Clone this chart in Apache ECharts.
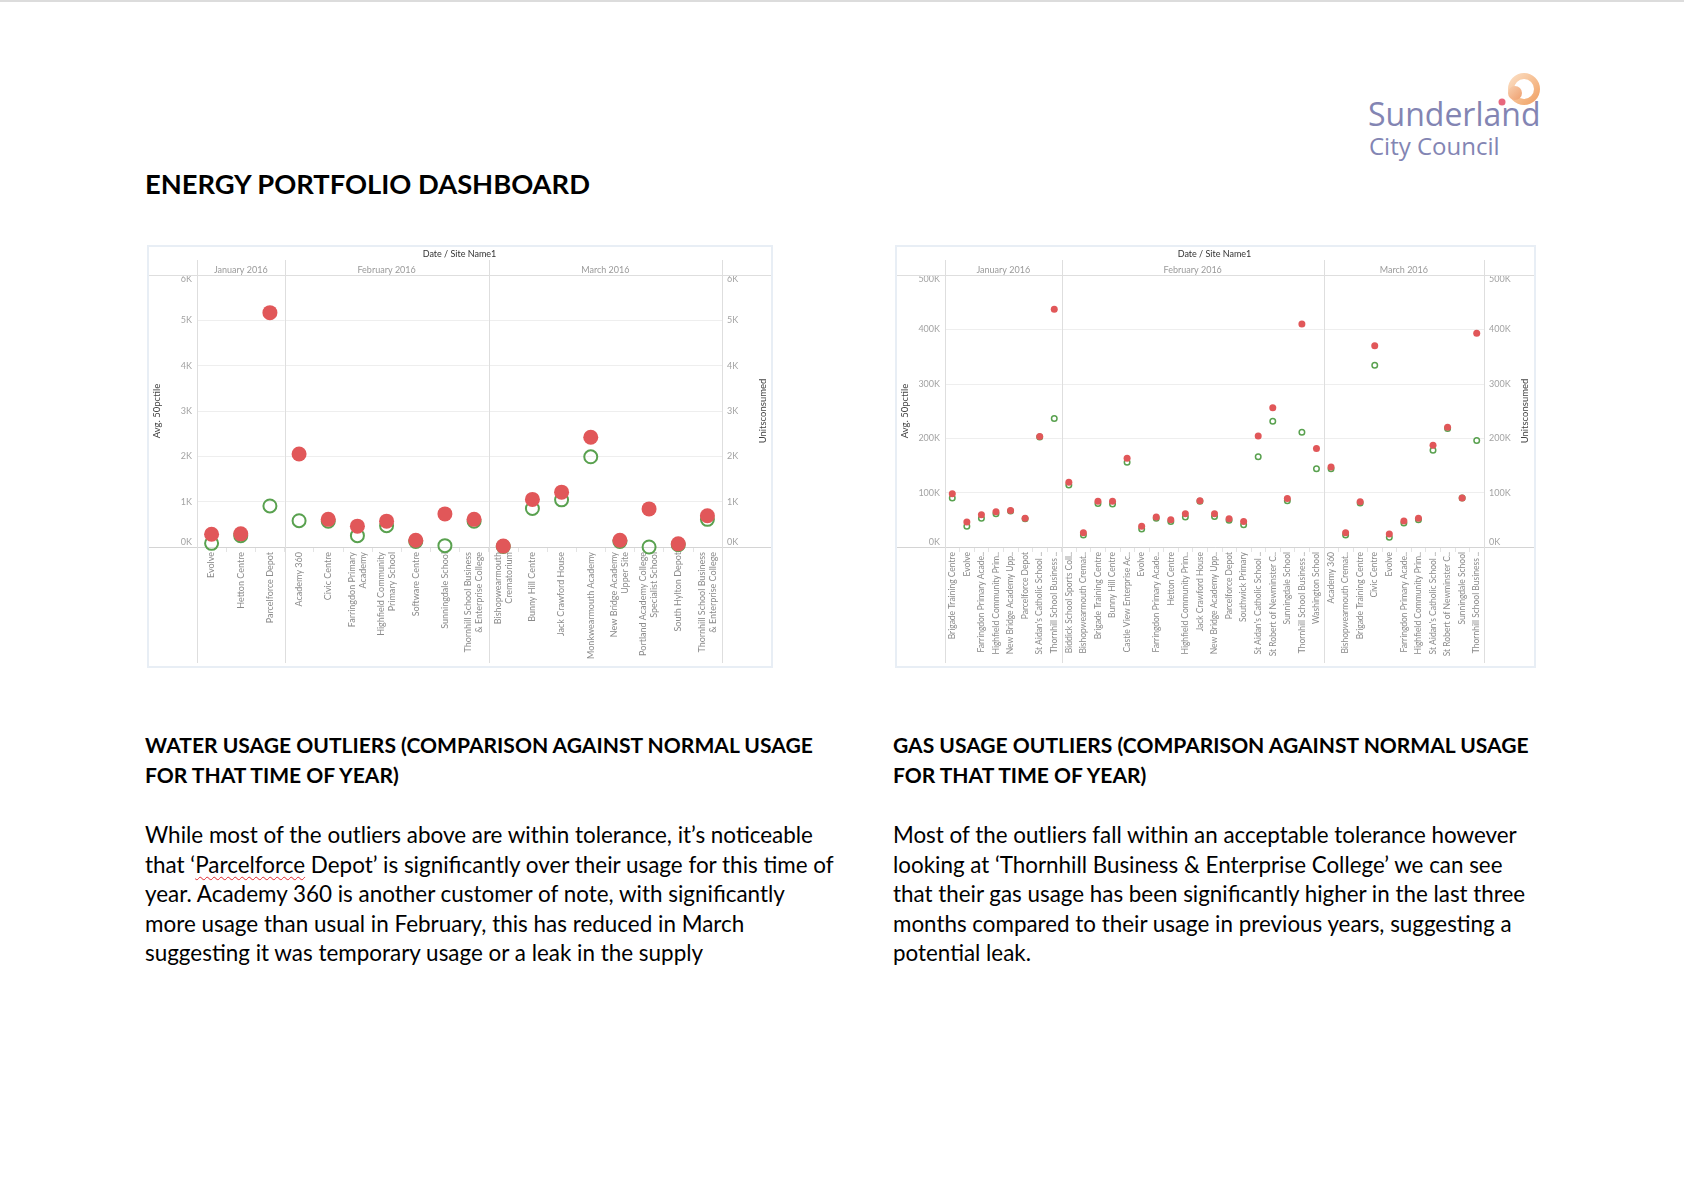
<!DOCTYPE html>
<html>
<head>
<meta charset="utf-8">
<script src="https://cdn.jsdelivr.net/npm/echarts@6/dist/echarts.min.js"></script>
<style>
html,body{margin:0;padding:0;background:#fff;width:1684px;height:1190px;overflow:hidden;font-family:Lato,"Open Sans",sans-serif;color:#000;}
.topline{position:absolute;left:0;top:0;width:1684px;height:2px;background:#dcdcdc;}
.panel{position:absolute;border:2px solid #e8eef5;box-sizing:border-box;background:#fff;}
.chart{position:absolute;}
.txt{position:absolute;white-space:nowrap;}
.txt span{display:block;}
.title{left:145px;top:166px;font-weight:700;font-size:28px;line-height:36px;}
.head{font-weight:700;font-size:20px;line-height:29.5px;}
.body{font-weight:400;font-size:20px;line-height:29.5px;}
.ref{display:inline-block !important;}
.sq{text-decoration:underline wavy #e0242a;text-decoration-thickness:1px;text-underline-offset:3px;}
.logo1{position:absolute;left:1368px;top:94px;font-family:"Open Sans",sans-serif;font-size:32px;line-height:40px;color:#8385b3;white-space:nowrap;}
.logo2{position:absolute;left:1369px;top:131px;font-family:"Open Sans",sans-serif;font-size:24px;line-height:30px;color:#8385b3;white-space:nowrap;}
</style>
</head>
<body>
<div class="topline"></div>

<svg style="position:absolute;left:1490px;top:65px" width="60" height="50">
  <defs>
    <linearGradient id="rg" x1="0" y1="0" x2="1" y2="1">
      <stop offset="0" stop-color="#fbdcc0"/>
      <stop offset="1" stop-color="#f1a468"/>
    </linearGradient>
    <linearGradient id="mg" x1="0" y1="0" x2="1" y2="1">
      <stop offset="0" stop-color="#f8cfae"/>
      <stop offset="1" stop-color="#ef9f6e"/>
    </linearGradient>
  </defs>
  <circle cx="34" cy="24" r="13" fill="none" stroke="url(#rg)" stroke-width="6"/>
  <circle cx="25" cy="28" r="7" fill="url(#mg)"/>
  <circle cx="12" cy="37" r="3.5" fill="#e8677d"/>
</svg>
<div class="logo1">Sunderland</div>
<div class="logo2">City Council</div>

<div class="txt title" id="title"><span class="ref">ENERGY PORTFOLIO DASHBOARD</span></div>

<div class="panel" style="left:147px;top:245px;width:626px;height:423px"></div>
<div class="chart" id="water" style="left:147px;top:245px;width:626px;height:423px"></div>
<div class="panel" style="left:895px;top:245px;width:641px;height:423px"></div>
<div class="chart" id="gas" style="left:895px;top:245px;width:641px;height:423px"></div>

<div class="txt head" id="h1" style="left:145px;top:730px"><span class="ref">WATER USAGE OUTLIERS (COMPARISON AGAINST NORMAL USAGE</span><span>FOR THAT TIME OF YEAR)</span></div>
<div class="txt body" id="b1" style="left:145px;top:820px"><span class="ref">While most of the outliers above are within tolerance, it’s noticeable</span><span>that ‘<span class="sq" style="display:inline">Parcelforce</span> Depot’ is significantly over their usage for this time of</span><span>year. Academy 360 is another customer of note, with significantly</span><span>more usage than usual in February, this has reduced in March</span><span>suggesting it was temporary usage or a leak in the supply</span></div>

<div class="txt head" id="h2" style="left:893px;top:730px"><span class="ref">GAS USAGE OUTLIERS (COMPARISON AGAINST NORMAL USAGE</span><span>FOR THAT TIME OF YEAR)</span></div>
<div class="txt body" id="b2" style="left:893px;top:820px"><span class="ref">Most of the outliers fall within an acceptable tolerance however</span><span>looking at ‘Thornhill Business &amp; Enterprise College’ we can see</span><span>that their gas usage has been significantly higher in the last three</span><span>months compared to their usage in previous years, suggesting a</span><span>potential leak.</span></div>

<script>
// ---------- DATA ----------
const months = ['January 2016', 'February 2016', 'March 2016'];

// Water (Avg. 50pctile = green ring, Unitsconsumed = red dot)
const waterJanSites = ['Evolve', 'Hetton Centre', 'Parcelforce Depot'];
const waterJanAvg   = [80, 250, 905];
const waterJanUnits = [280, 290, 5170];

const waterFebSites = ['Academy 360', 'Civic Centre', 'Farringdon Primary\nAcademy', 'Highfield Community\nPrimary School', 'Software Centre', 'Sunningdale School', 'Thornhill School Business\n& Enterprise College'];
const waterFebAvg   = [580, 570, 250, 470, 120, 30, 570];
const waterFebUnits = [2050, 610, 460, 570, 150, 730, 610];

const waterMarSites = ['Bishopwearmouth\nCrematorium', 'Bunny Hill Centre', 'Jack Crawford House', 'Monkwearmouth Academy', 'New Bridge Academy\nUpper Site', 'Portland Academy College\nSpecialist School', 'South Hylton Depot', 'Thornhill School Business\n& Enterprise College'];
const waterMarAvg   = [10, 850, 1040, 1990, 120, 0, 50, 610];
const waterMarUnits = [20, 1050, 1210, 2420, 150, 840, 70, 690];

const waterYTicks = { min: 0, max: 6000, interval: 1000 };

// Gas
const gasJanSites = ['Brigade Training Centre', 'Evolve', 'Farringdon Primary Acade..', 'Highfield Community Prim..', 'New Bridge Academy Upp..', 'Parcelforce Depot', "St Aidan's Catholic School ..", 'Thornhill School Business ..'];
const gasJanAvg   = [90000, 38000, 53000, 61000, 66000, 52000, 202000, 236000];
const gasJanUnits = [98000, 46000, 59500, 65000, 67000, 53000, 203000, 437000];

const gasFebSites = ['Biddick School Sports Coll..', 'Bishopwearmouth Cremat..', 'Brigade Training Centre', 'Bunny Hill Centre', 'Castle View Enterprise Ac..', 'Evolve', 'Farringdon Primary Acade..', 'Hetton Centre', 'Highfield Community Prim..', 'Jack Crawford House', 'New Bridge Academy Upp..', 'Parcelforce Depot', 'Southwick Primary', "St Aidan's Catholic School ..", 'St Robert of Newminster C..', 'Sunningdale School', 'Thornhill School Business ..', 'Washington School'];
const gasFebAvg   = [114000, 22000, 80000, 79000, 156000, 33000, 53000, 47000, 55000, 84000, 56000, 49000, 41000, 166000, 231000, 85000, 211000, 144000];
const gasFebUnits = [119000, 26000, 84000, 84000, 163000, 38000, 55000, 50000, 61000, 85000, 61000, 52000, 47000, 204000, 256000, 89000, 410000, 181000];

const gasMarSites = ['Academy 360', 'Bishopwearmouth Cremat..', 'Brigade Training Centre', 'Civic Centre', 'Evolve', 'Farringdon Primary Acade..', 'Highfield Community Prim..', "St Aidan's Catholic School ..", 'St Robert of Newminster C..', 'Sunningdale School', 'Thornhill School Business ..'];
const gasMarAvg   = [144000, 22000, 81000, 334000, 18000, 44000, 50000, 178000, 218000, 90000, 196000];
const gasMarUnits = [147000, 26000, 83000, 370000, 24000, 48000, 53000, 187000, 220000, 90000, 393000];

const gasYTicks = { min: 0, max: 500000, interval: 100000 };

const leftAxisName = 'Avg. 50pctile';
const rightAxisName = 'Unitsconsumed';
const headerTitle = 'Date / Site Name1';

// ---------- STYLE ----------
const RED = '#e15759';
const GREEN = '#59a14f';

function buildChart(el, groups, ticks, st) {
  const chart = echarts.init(el, null, { renderer: 'canvas' });
  const W = el.clientWidth, H = el.clientHeight;
  const pl = st.plotLeft, pt = st.plotTop, pw = W - st.plotLeft - st.plotRightGap, ph = st.plotH;
  const total = groups.reduce((s, g) => s + g.sites.length, 0);
  const grids = [], xAxes = [], yAxes = [], series = [];
  const bounds = [pl];
  let cum = 0;
  groups.forEach((g, i) => {
    const left = pl + pw * cum / total;
    const width = pw * g.sites.length / total;
    cum += g.sites.length;
    bounds.push(pl + pw * cum / total);
    grids.push({ left: left, top: pt, width: width, height: ph, containLabel: false });
    xAxes.push({
      type: 'category', gridIndex: i, data: g.sites, position: 'bottom', boundaryGap: true,
      axisLine: { show: false },
      axisTick: { show: true, length: 5, lineStyle: { color: '#e4e4e4' } },
      splitLine: { show: false },
      axisLabel: { rotate: 90, interval: 0, hideOverlap: false, fontSize: st.xFont, lineHeight: st.xLineH,
                   color: '#8a8a8a', margin: 5, fontFamily: 'Lato' }
    });
    xAxes.push({
      type: 'category', gridIndex: i, data: [g.month], position: 'top',
      axisLine: { show: false }, axisTick: { show: false }, splitLine: { show: false },
      axisLabel: { fontSize: 9, color: '#9a9a9a', margin: 0, fontFamily: 'Lato' }
    });
    const isFirst = i === 0, isLast = i === groups.length - 1;
    yAxes.push({
      type: 'value', gridIndex: i, min: ticks.min, max: ticks.max, interval: ticks.interval,
      position: isLast && !isFirst ? 'right' : 'left',
      name: isFirst ? leftAxisName : (isLast ? rightAxisName : ''),
      nameLocation: 'middle', nameRotate: 90, nameGap: isFirst ? st.nameGapL : st.nameGapR,
      nameTextStyle: { fontSize: 9.5, color: '#444', fontFamily: 'Lato' },
      axisLine: { show: false }, axisTick: { show: false },
      splitLine: { show: true, lineStyle: { color: '#eeeeee', width: 1 } },
      axisLabel: { show: isFirst || isLast, fontSize: 9, color: '#a3a3a3', margin: 5, fontFamily: 'Lato',
                   verticalAlignMaxLabel: 'top', verticalAlignMinLabel: 'bottom',
                   formatter: v => (v / 1000) + 'K' }
    });
    series.push({
      type: 'scatter', xAxisIndex: 2 * i, yAxisIndex: i, data: g.avg, z: 2,
      symbol: 'circle', symbolSize: st.ringSize,
      itemStyle: { color: 'rgba(255,255,255,0)', borderColor: GREEN, borderWidth: st.ringWidth, opacity: 1 },
      emphasis: { disabled: true }
    });
    series.push({
      type: 'scatter', xAxisIndex: 2 * i, yAxisIndex: i, data: g.units, z: 3,
      symbol: 'circle', symbolSize: st.dotSize,
      itemStyle: { color: RED, opacity: 1 },
      emphasis: { disabled: true }
    });
  });
  const lineC = '#dedede';
  const graphic = [
    { type: 'line', shape: { x1: 2, y1: pt + 0.5, x2: W - 2, y2: pt + 0.5 }, style: { stroke: lineC, lineWidth: 1 }, z: 1 },
    { type: 'line', shape: { x1: 2, y1: pt + ph + 0.5, x2: W - 2, y2: pt + ph + 0.5 }, style: { stroke: '#d4d4d4', lineWidth: 1 }, z: 1 },
    { type: 'text', x: pl + pw / 2, y: st.titleY, style: { text: headerTitle, fontSize: 9, fill: '#333', align: 'center', verticalAlign: 'middle', fontFamily: 'Lato' } }
  ];
  bounds.forEach(x => {
    graphic.push({ type: 'line', shape: { x1: Math.round(x) + 0.5, y1: st.vTop, x2: Math.round(x) + 0.5, y2: st.vBottom },
                   style: { stroke: lineC, lineWidth: 1 }, z: 1 });
  });
  chart.setOption({
    animation: false,
    backgroundColor: 'transparent',
    textStyle: { fontFamily: 'Lato' },
    grid: grids, xAxis: xAxes, yAxis: yAxes, series: series, graphic: graphic
  });
  return chart;
}

buildChart(document.getElementById('water'), [
  { month: months[0], sites: waterJanSites, avg: waterJanAvg, units: waterJanUnits },
  { month: months[1], sites: waterFebSites, avg: waterFebAvg, units: waterFebUnits },
  { month: months[2], sites: waterMarSites, avg: waterMarAvg, units: waterMarUnits }
], waterYTicks, { plotLeft: 50, plotRightGap: 51, plotTop: 30, plotH: 272, xFont: 9, xLineH: 11,
                  nameGapL: 35, nameGapR: 36, ringSize: 13, ringWidth: 2, dotSize: 15,
                  titleY: 9, vTop: 15, vBottom: 418 });

buildChart(document.getElementById('gas'), [
  { month: months[0], sites: gasJanSites, avg: gasJanAvg, units: gasJanUnits },
  { month: months[1], sites: gasFebSites, avg: gasFebAvg, units: gasFebUnits },
  { month: months[2], sites: gasMarSites, avg: gasMarAvg, units: gasMarUnits }
], gasYTicks, { plotLeft: 50, plotRightGap: 52, plotTop: 30, plotH: 272, xFont: 8.5, xLineH: 10,
                nameGapL: 35, nameGapR: 36, ringSize: 5.5, ringWidth: 1.5, dotSize: 7,
                titleY: 9, vTop: 15, vBottom: 418 });

// fit text blocks to the widths measured in the reference
function fit(id, target) {
  const el = document.getElementById(id);
  const ref = el.querySelector('.ref');
  const fs = parseFloat(getComputedStyle(el).fontSize);
  const w = ref.getBoundingClientRect().width;
  el.style.fontSize = (fs * target / w).toFixed(2) + 'px';
}
fit('title', 445);
fit('h1', 668);
fit('b1', 668);
fit('h2', 636);
fit('b2', 624);
</script>
</body>
</html>
